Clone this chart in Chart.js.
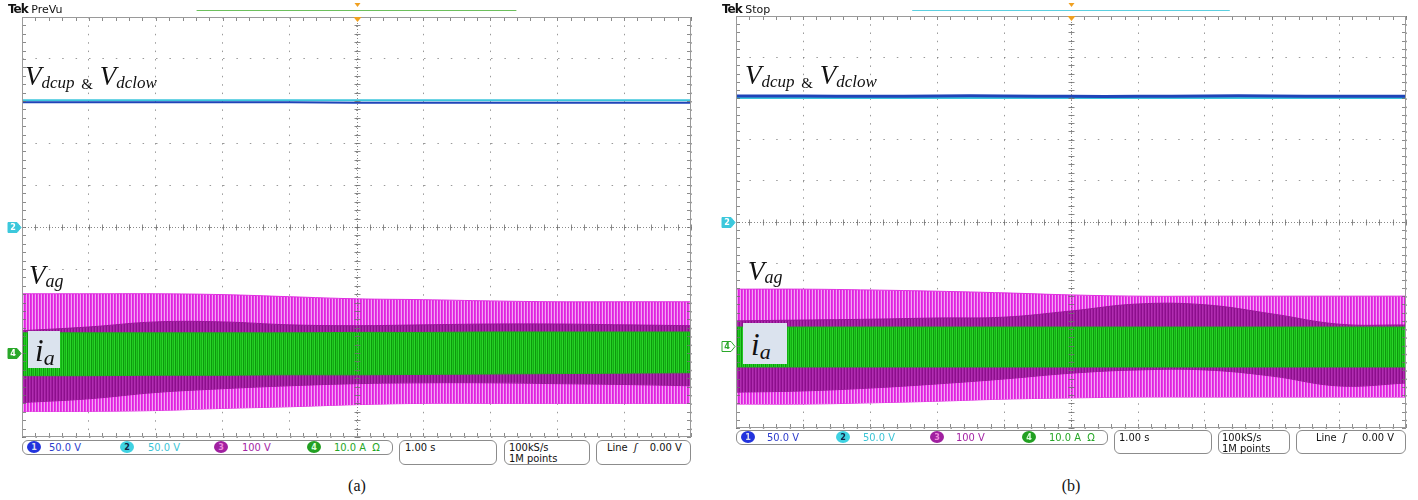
<!DOCTYPE html>
<html>
<head>
<meta charset="utf-8">
<script src="https://cdn.jsdelivr.net/npm/chart.js@4.4.0/dist/chart.umd.min.js"></script>
<style>
  body { margin: 0; width: 1418px; height: 500px; background: #fff; position: relative; overflow: hidden; }
  canvas { position: absolute; }
  .t { position: absolute; white-space: nowrap; line-height: 1; }
  .serif { font-family: 'Liberation Serif', 'Times New Roman', serif; font-style: italic; color: #111; }
  .up { font-style: normal; }
  .tek { font-family: 'DejaVu Sans', sans-serif; font-size: 11px; color: #111; }
  .tek b { letter-spacing: -1px; font-size: 12px; }
  .box { position: absolute; border: 1px solid #8c8c8c; border-radius: 6px; box-sizing: border-box; }
  .st { position: absolute; white-space: nowrap; font-family: 'DejaVu Sans Condensed', 'DejaVu Sans', sans-serif; font-size: 11px; line-height: 12px; }
  .dot { position: absolute; width: 14px; height: 12px; border-radius: 50%; font-family: 'DejaVu Sans Condensed', sans-serif; font-size: 9px; line-height: 12px; text-align: center; font-weight: bold; }
  .ia { position: absolute; background: #dbe3ee; }
  .cap { position: absolute; font-family: 'Liberation Serif', 'Times New Roman', serif; font-size: 16px; color: #111; transform: translateX(-50%); }
</style>
</head>
<body>
<canvas id="scopeA" width="712" height="440" style="left:0;top:0"></canvas>
<canvas id="scopeB" width="704" height="432" style="left:714px;top:0"></canvas>

<!-- headers -->
<div class="t tek" style="left:8px;top:3px"><b>Tek</b> PreVu</div>
<div class="t tek" style="left:722px;top:3px"><b>Tek</b> Stop</div>

<!-- trace labels (a) -->
<div class="t serif" style="left:25px;top:63px;font-size:27px">V<span style="font-size:17px;vertical-align:-3px">dcup</span> <span class="up" style="font-size:15px;vertical-align:-4px">&amp;</span> V<span style="font-size:17px;vertical-align:-3px">dclow</span></div>
<div class="t serif" style="left:29px;top:262px;font-size:27px">V<span style="font-size:18px;vertical-align:-3px">ag</span></div>
<div class="ia" style="left:28px;top:331px;width:32px;height:37px"></div>
<div class="t serif" style="left:35px;top:335px;font-size:31px">i<span style="font-size:22px;vertical-align:-4px">a</span></div>

<!-- trace labels (b) -->
<div class="t serif" style="left:745px;top:62px;font-size:27px">V<span style="font-size:17px;vertical-align:-3px">dcup</span> <span class="up" style="font-size:15px;vertical-align:-4px">&amp;</span> V<span style="font-size:17px;vertical-align:-3px">dclow</span></div>
<div class="t serif" style="left:748px;top:258px;font-size:27px">V<span style="font-size:18px;vertical-align:-3px">ag</span></div>
<div class="ia" style="left:743px;top:323px;width:44px;height:41px"></div>
<div class="t serif" style="left:751px;top:329px;font-size:31px">i<span style="font-size:22px;vertical-align:-4px">a</span></div>

<!-- status bar (a) -->
<div class="box" style="left:22px;top:440px;width:371px;height:15px"></div>
<div class="dot" style="left:27px;top:441px;background:#2233dd;color:#dde">1</div>
<div class="st" style="left:49px;top:442px;color:#2d3ccc">50.0 V</div>
<div class="dot" style="left:120px;top:441px;background:#3fd2e2;color:#124">2</div>
<div class="st" style="left:148px;top:442px;color:#3cc4d6">50.0 V</div>
<div class="dot" style="left:214px;top:441px;background:#a020a0;color:#e8d">3</div>
<div class="st" style="left:242px;top:442px;color:#a424a4">100 V</div>
<div class="dot" style="left:307px;top:441px;background:#22a022;color:#dfd">4</div>
<div class="st" style="left:334px;top:442px;color:#26a626">10.0 A&nbsp;&nbsp;Ω</div>
<div class="box" style="left:399px;top:440px;width:98px;height:25px"></div>
<div class="st" style="left:405px;top:442px;color:#111">1.00 s</div>
<div class="box" style="left:504px;top:440px;width:86px;height:25px"></div>
<div class="st" style="left:509px;top:442px;color:#111">100kS/s</div>
<div class="st" style="left:509px;top:453px;color:#111">1M points</div>
<div class="box" style="left:596px;top:440px;width:95px;height:25px"></div>
<div class="st" style="left:607px;top:442px;color:#111">Line&nbsp;&nbsp;<i>ʃ</i>&nbsp;&nbsp;&nbsp;&nbsp;0.00 V</div>

<!-- status bar (b) -->
<div class="box" style="left:736px;top:430px;width:372px;height:15px"></div>
<div class="dot" style="left:741px;top:431px;background:#2233dd;color:#dde">1</div>
<div class="st" style="left:767px;top:432px;color:#2d3ccc">50.0 V</div>
<div class="dot" style="left:836px;top:431px;background:#3fd2e2;color:#124">2</div>
<div class="st" style="left:863px;top:432px;color:#3cc4d6">50.0 V</div>
<div class="dot" style="left:930px;top:431px;background:#a020a0;color:#e8d">3</div>
<div class="st" style="left:956px;top:432px;color:#a424a4">100 V</div>
<div class="dot" style="left:1022px;top:431px;background:#22a022;color:#dfd">4</div>
<div class="st" style="left:1049px;top:432px;color:#26a626">10.0 A&nbsp;&nbsp;Ω</div>
<div class="box" style="left:1114px;top:430px;width:98px;height:24px"></div>
<div class="st" style="left:1119px;top:432px;color:#111">1.00 s</div>
<div class="box" style="left:1218px;top:430px;width:72px;height:24px"></div>
<div class="st" style="left:1222px;top:432px;color:#111">100kS/s</div>
<div class="st" style="left:1222px;top:443px;color:#111">1M points</div>
<div class="box" style="left:1296px;top:430px;width:110px;height:24px"></div>
<div class="st" style="left:1316px;top:432px;color:#111">Line&nbsp;&nbsp;<i>ʃ</i>&nbsp;&nbsp;&nbsp;&nbsp;&nbsp;0.00 V</div>

<div class="cap" style="left:357px;top:477px">(a)</div>
<div class="cap" style="left:1071px;top:477px">(b)</div>

<script>
// horizontal position of every sample, in screen divisions
const xDiv = [0, 1, 2, 3, 4, 5, 6, 7, 8, 9, 10];

// (a) PreVu - envelopes, in divisions from centre
const aVdcUp   = [3.02, 3.02, 3.02, 3.02, 3.02, 3.02, 3.02, 3.02, 3.02, 3.02, 3.02];
const aVdcLow  = [2.97, 2.97, 2.97, 2.97, 2.97, 2.96, 2.96, 2.96, 2.96, 2.96, 2.96];
const aVagTop  = [-1.59, -1.59, -1.59, -1.61, -1.66, -1.71, -1.73, -1.76, -1.78, -1.78, -1.78];
const aDarkTop = [-2.47, -2.38, -2.26, -2.26, -2.33, -2.35, -2.33, -2.31, -2.31, -2.33, -2.35];
const aIaTop   = [-2.52, -2.52, -2.52, -2.52, -2.52, -2.51, -2.51, -2.50, -2.50, -2.50, -2.50];
const aIaBot   = [-3.54, -3.54, -3.53, -3.53, -3.52, -3.52, -3.51, -3.50, -3.49, -3.48, -3.47];
const aDarkBot = [-4.18, -4.09, -3.94, -3.85, -3.78, -3.73, -3.71, -3.71, -3.73, -3.75, -3.78];
const aVagBot  = [-4.39, -4.39, -4.37, -4.32, -4.28, -4.23, -4.20, -4.20, -4.20, -4.20, -4.20];

// (b) Stop
const bVdcUp   = [3.01, 3.01, 3.01, 3.01, 3.01, 3.01, 3.01, 3.01, 3.01, 3.01, 3.01];
const bVdcLow  = [3.06, 3.06, 3.05, 3.06, 3.06, 3.05, 3.05, 3.06, 3.06, 3.05, 3.05];
const bVagTop  = [-1.63, -1.63, -1.65, -1.68, -1.72, -1.77, -1.80, -1.80, -1.80, -1.80, -1.80];
const bDarkTop = [-2.40, -2.38, -2.36, -2.33, -2.31, -2.16, -1.99, -2.01, -2.23, -2.48, -2.50];
const bIaTop   = [-2.55, -2.55, -2.55, -2.55, -2.55, -2.55, -2.55, -2.55, -2.55, -2.55, -2.55];
const bIaBot   = [-3.52, -3.52, -3.52, -3.52, -3.52, -3.52, -3.52, -3.52, -3.52, -3.52, -3.52];
const bDarkBot = [-4.13, -4.10, -4.03, -3.93, -3.81, -3.67, -3.59, -3.59, -3.74, -3.98, -3.91];
const bVagBot  = [-4.42, -4.42, -4.39, -4.35, -4.30, -4.27, -4.25, -4.25, -4.25, -4.25, -4.25];

// channel ground markers (divisions)
const ch2Offset = 0;
const ch4Offset = -3;

function stripes(ctx, cols) {
    const c = document.createElement('canvas');
    c.width = cols.length;
    c.height = 1;
    const g = c.getContext('2d');
    cols.forEach((col, i) => { g.fillStyle = col; g.fillRect(i, 0, 1, 1); });
    return ctx.createPattern(c, 'repeat');
}

function pts(arr) {
    return arr.map((v, i) => ({ x: xDiv[i], y: v }));
}

// graticule centre cross, border ticks and the channel / trigger markers
const scopePlugin = {
    id: 'scope',
    afterDatasetsDraw(chart, args, o) {
        const { ctx, chartArea: ca, scales: { x, y } } = chart;
        const cx = Math.round(x.getPixelForValue(5)) + 0.5;
        const cy = Math.round(y.getPixelForValue(0)) + 0.5;
        ctx.save();
        ctx.lineWidth = 1;

        ctx.strokeStyle = 'rgba(110,110,110,0.8)';
        ctx.setLineDash([1, 2]);
        ctx.beginPath();
        ctx.moveTo(ca.left, cy); ctx.lineTo(ca.right, cy);
        ctx.moveTo(cx, ca.top); ctx.lineTo(cx, ca.bottom);
        ctx.stroke();
        ctx.setLineDash([]);

        ctx.beginPath();
        for (let i = 0; i <= 50; i++) {
            const px = Math.round(x.getPixelForValue(i / 5)) + 0.5;
            ctx.moveTo(px, ca.top); ctx.lineTo(px, ca.top + 4);
            ctx.moveTo(px, ca.bottom); ctx.lineTo(px, ca.bottom - 4);
            ctx.moveTo(px, cy - 3); ctx.lineTo(px, cy + 3);
            const py = Math.round(y.getPixelForValue(-5 + i / 5)) + 0.5;
            ctx.moveTo(ca.left, py); ctx.lineTo(ca.left + 4, py);
            ctx.moveTo(ca.right, py); ctx.lineTo(ca.right - 4, py);
            ctx.moveTo(cx - 3, py); ctx.lineTo(cx + 3, py);
        }
        ctx.stroke();

        ctx.strokeStyle = '#9a9a9a';
        ctx.strokeRect(ca.left + 0.5, ca.top + 0.5, ca.width - 1, ca.height - 1);

        // record view bar and trigger marks
        ctx.strokeStyle = o.recColor;
        ctx.beginPath();
        ctx.moveTo(x.getPixelForValue(o.recFrom), 10.5);
        ctx.lineTo(x.getPixelForValue(o.recTo), 10.5);
        ctx.stroke();
        ctx.fillStyle = '#f0a020';
        ctx.beginPath();
        ctx.moveTo(cx - 3, 3); ctx.lineTo(cx + 3, 3); ctx.lineTo(cx, 7); ctx.closePath();
        ctx.moveTo(cx - 4, ca.top); ctx.lineTo(cx + 4, ca.top); ctx.lineTo(cx, ca.top + 5); ctx.closePath();
        ctx.fill();

        // channel markers
        const marker = (val, label, col, filled) => {
            const my = Math.round(y.getPixelForValue(val)) + 0.5;
            const l = ca.left - 14;
            ctx.beginPath();
            ctx.moveTo(l, my - 5); ctx.lineTo(l + 9, my - 5); ctx.lineTo(ca.left - 1, my);
            ctx.lineTo(l + 9, my + 5); ctx.lineTo(l, my + 5); ctx.closePath();
            ctx.fillStyle = filled ? col : '#fff';
            ctx.fill();
            ctx.strokeStyle = col;
            ctx.stroke();
            ctx.fillStyle = filled ? '#fff' : col;
            ctx.font = 'bold 9px "DejaVu Sans Condensed", sans-serif';
            ctx.textAlign = 'center';
            ctx.textBaseline = 'middle';
            ctx.fillText(label, l + 5, my + 0.5);
        };
        marker(ch2Offset, '2', '#3cc8dc', true);
        marker(ch4Offset, '4', '#2aa82a', o.ch4Filled);
        ctx.restore();
    }
};

function makeScope(id, d, pad, divPx, extra) {
    const ctx = document.getElementById(id).getContext('2d');
    const mag = stripes(ctx, ['#df22df', '#e43ce4', '#f4a4f4']);
    const dark = stripes(ctx, ['#a01ca0', '#8c0e8c', '#b02eb0']);
    const green = stripes(ctx, ['#20c820', '#12ae12', '#2ad42a', '#0e980e']);
    return new Chart(ctx, {
        type: 'line',
        data: {
            datasets: [
                { data: pts(d.vdcLow), borderColor: '#1f44b8', borderWidth: d.lowWidth },
                { data: pts(d.vdcUp), borderColor: '#3cc6dc', borderWidth: 2 },
                { data: pts(d.iaTop), borderColor: '#18b418', borderWidth: 1, fill: 3, backgroundColor: green },
                { data: pts(d.iaBot), borderColor: '#18b418', borderWidth: 1 },
                { data: pts(d.darkTop), borderColor: '#9a169a', borderWidth: 1, fill: 5, backgroundColor: dark },
                { data: pts(d.darkBot), borderColor: '#9a169a', borderWidth: 1 },
                { data: pts(d.vagTop), borderColor: '#e030e0', borderWidth: 1, fill: 7, backgroundColor: mag },
                { data: pts(d.vagBot), borderColor: '#e030e0', borderWidth: 1 }
            ]
        },
        options: {
            responsive: false,
            animation: false,
            events: [],
            layout: { padding: pad },
            elements: { point: { radius: 0 }, line: { tension: 0.4 } },
            plugins: { legend: { display: false }, tooltip: { enabled: false }, scope: extra },
            scales: {
                x: {
                    type: 'linear', min: 0, max: 10,
                    ticks: { display: false, stepSize: 1 },
                    grid: { drawTicks: false, color: 'rgba(120,120,120,0.75)' },
                    border: { display: false, dash: [1.5, divPx / 5 - 1.5] }
                },
                y: {
                    type: 'linear', min: -5, max: 5,
                    ticks: { display: false, stepSize: 1 },
                    grid: { drawTicks: false, color: 'rgba(120,120,120,0.75)' },
                    border: { display: false, dash: [1.5, 13.4 - 1.5] }
                }
            }
        },
        plugins: [scopePlugin]
    });
}

makeScope('scopeA', {
    vdcUp: aVdcUp, vdcLow: aVdcLow, lowWidth: 2,
    vagTop: aVagTop, darkTop: aDarkTop, iaTop: aIaTop,
    iaBot: aIaBot, darkBot: aDarkBot, vagBot: aVagBot
}, { left: 22, top: 17, right: 21, bottom: 3 }, 42, { recColor: '#6cbf5c', recFrom: 2.61, recTo: 7.39, ch4Filled: true });

makeScope('scopeB', {
    vdcUp: bVdcUp, vdcLow: bVdcLow, lowWidth: 3,
    vagTop: bVagTop, darkTop: bDarkTop, iaTop: bIaTop,
    iaBot: bIaBot, darkBot: bDarkBot, vagBot: bVagBot
}, { left: 22, top: 16, right: 12, bottom: 4 }, 41.2, { recColor: '#5ccfe0', recFrom: 2.63, recTo: 7.37, ch4Filled: false });
</script>
</body>
</html>
